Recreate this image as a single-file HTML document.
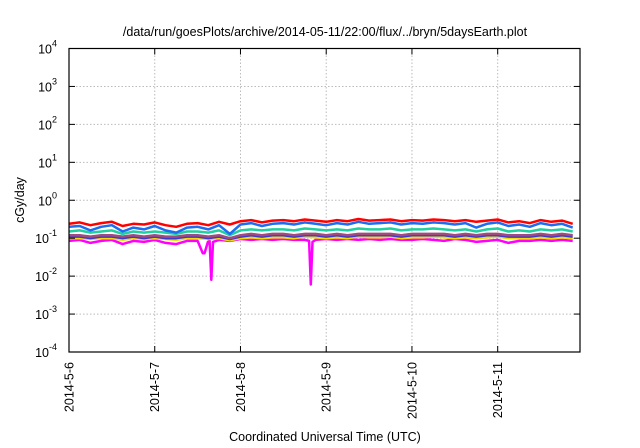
<!DOCTYPE html>
<html><head><meta charset="utf-8"><style>
body{margin:0;background:#fff}
svg{display:block;font-family:"Liberation Sans",sans-serif}
</style></head><body>
<svg id="chart" width="640" height="448" viewBox="0 0 640 448" xmlns="http://www.w3.org/2000/svg">
<text x="325" y="36" font-size="12.5" text-anchor="middle">/data/run/goesPlots/archive/2014-05-11/22:00/flux/../bryn/5daysEarth.plot</text>
<g id="grid"></g><g id="series"></g><g id="axes"></g>
<text transform="translate(24,200) rotate(-90)" font-size="12.5" text-anchor="middle">cGy/day</text>
<text x="325" y="441" font-size="12.5" text-anchor="middle">Coordinated Universal Time (UTC)</text>
</svg>
<script>
const xTickLabels=["2014-5-6","2014-5-7","2014-5-8","2014-5-9","2014-5-10","2014-5-11"];
const yTickExps=[-4,-3,-2,-1,0,1,2,3,4];
const red=[0.24,0.26,0.22,0.25,0.27,0.21,0.24,0.23,0.26,0.22,0.2,0.24,0.25,0.22,0.27,0.23,0.28,0.3,0.26,0.29,0.3,0.28,0.31,0.29,0.27,0.3,0.28,0.32,0.29,0.3,0.31,0.28,0.3,0.29,0.31,0.3,0.28,0.3,0.27,0.29,0.31,0.26,0.28,0.25,0.3,0.27,0.29,0.24];
const blue=[0.2,0.21,0.16,0.2,0.22,0.15,0.19,0.17,0.21,0.16,0.14,0.19,0.2,0.17,0.22,0.13,0.23,0.25,0.21,0.24,0.25,0.23,0.26,0.24,0.22,0.25,0.23,0.27,0.24,0.25,0.26,0.23,0.25,0.24,0.26,0.25,0.23,0.25,0.19,0.24,0.26,0.21,0.23,0.2,0.25,0.22,0.24,0.19];
const teal=[0.15,0.16,0.14,0.15,0.16,0.13,0.15,0.14,0.15,0.14,0.13,0.15,0.15,0.14,0.16,0.12,0.16,0.17,0.16,0.17,0.17,0.16,0.18,0.17,0.16,0.17,0.16,0.18,0.17,0.17,0.18,0.16,0.17,0.17,0.18,0.17,0.16,0.17,0.15,0.17,0.18,0.15,0.16,0.15,0.17,0.16,0.17,0.15];
const purple=[0.12,0.12,0.11,0.12,0.12,0.11,0.12,0.11,0.12,0.11,0.11,0.12,0.12,0.11,0.12,0.1,0.12,0.13,0.12,0.13,0.13,0.12,0.13,0.13,0.12,0.13,0.12,0.13,0.13,0.13,0.13,0.12,0.13,0.13,0.13,0.13,0.12,0.13,0.12,0.13,0.13,0.12,0.12,0.12,0.13,0.12,0.13,0.12];
const darkBlue=[0.11,0.11,0.1,0.11,0.11,0.1,0.11,0.1,0.11,0.1,0.1,0.11,0.11,0.1,0.11,0.095,0.11,0.12,0.11,0.12,0.12,0.11,0.12,0.12,0.11,0.12,0.11,0.12,0.12,0.12,0.12,0.11,0.12,0.12,0.12,0.12,0.11,0.12,0.11,0.12,0.12,0.11,0.11,0.11,0.12,0.11,0.12,0.11];
const yellow=[0.1,0.1,0.095,0.1,0.1,0.09,0.1,0.095,0.1,0.095,0.09,0.1,0.1,0.095,0.1,0.088,0.1,0.105,0.1,0.105,0.105,0.1,0.11,0.105,0.1,0.105,0.1,0.11,0.105,0.105,0.11,0.1,0.105,0.105,0.11,0.105,0.1,0.105,0.1,0.105,0.11,0.1,0.1,0.1,0.105,0.1,0.105,0.1];
const magentaTimes=[0,0.125,0.25,0.375,0.5,0.625,0.75,0.875,1,1.125,1.25,1.375,1.5,1.56,1.58,1.62,1.64,1.66,1.68,1.75,1.875,2,2.125,2.25,2.375,2.5,2.625,2.75,2.8,2.82,2.84,2.875,3,3.125,3.25,3.375,3.5,3.625,3.75,3.875,4,4.125,4.25,4.375,4.5,4.625,4.75,4.875,5,5.125,5.25,5.375,5.5,5.625,5.75,5.875];
const magenta=[0.085,0.09,0.075,0.085,0.09,0.07,0.085,0.08,0.09,0.075,0.07,0.085,0.085,0.04,0.04,0.08,0.085,0.008,0.08,0.09,0.085,0.095,0.09,0.095,0.09,0.095,0.09,0.09,0.085,0.006,0.08,0.09,0.095,0.09,0.095,0.09,0.095,0.09,0.095,0.09,0.09,0.095,0.09,0.085,0.095,0.09,0.08,0.085,0.09,0.075,0.085,0.085,0.09,0.085,0.09,0.085];
const L=69,R=580,T=48.5,B=352,X0=0,X1=5.96,E0=-4,E1=4;
const xs=d=>L+(d-X0)/(X1-X0)*(R-L);
const ys=v=>B-(Math.log10(v)-E0)/(E1-E0)*(B-T);
const NS="http://www.w3.org/2000/svg";
function mk(tag,attrs,parent){const e=document.createElementNS(NS,tag);for(const k in attrs)e.setAttribute(k,attrs[k]);parent.appendChild(e);return e;}
const grid=document.getElementById('grid'),axes=document.getElementById('axes'),ser=document.getElementById('series');
yTickExps.forEach(e=>{const y=B-(e-E0)/(E1-E0)*(B-T);
 if(e>E0&&e<E1){const g=mk('line',{x1:L,x2:R,y1:y,y2:y,stroke:'#bbb','stroke-dasharray':'1.5,2','stroke-width':1},grid);
 
 }
 const t1=mk('line',{x1:L,x2:L+6,y1:y,y2:y,stroke:'#000'},axes);
 
 
 mk('line',{x1:R-6,x2:R,y1:y,y2:y,stroke:'#000'},axes);
 const tx=mk('text',{x:57,y:y+5,'font-size':12.5,'text-anchor':'end'},axes);
 
 
 tx.textContent='10';const s=mk('tspan',{dy:-7,'font-size':9},tx);s.textContent=String(e);});
xTickLabels.forEach((lab,i)=>{const x=xs(i);
 if(i>0){const g=mk('line',{x1:x,x2:x,y1:T,y2:B,stroke:'#bbb','stroke-dasharray':'1.5,2','stroke-width':1},grid);
 
 }
 mk('line',{x1:x,x2:x,y1:B,y2:B-6,stroke:'#000'},axes);
 mk('line',{x1:x,x2:x,y1:T,y2:T+6,stroke:'#000'},axes);
 const t=mk('text',{transform:`translate(${x+4.5},${B+10}) rotate(-90)`,'font-size':12.5,'text-anchor':'end'},axes);
 
 
 t.textContent=lab;});
const fr=mk('rect',{x:L,y:T,width:R-L,height:B-T,fill:'none',stroke:'#000','stroke-width':1.2},axes);


function line(times,vals,color,name){const p=mk('polyline',{points:vals.map((v,i)=>xs(times[i]).toFixed(1)+','+ys(v).toFixed(1)).join(' '),fill:'none',stroke:color,'stroke-width':2.5,'stroke-linejoin':'round'},ser);
 
 }
const t48=red.map((_,i)=>i*0.125);
line(magentaTimes,magenta,'#ff00ff','series-magenta');
line(t48,yellow,'#f0e000','series-yellow');
line(t48,darkBlue,'#3a3ad0','series-dark-blue');
line(t48,purple,'#a04a80','series-purple');
line(t48,teal,'#20d0a0','series-teal');
line(t48,red,'#ff0000','series-red');
line(t48,blue,'#1e6cf0','series-blue');
</script>
</body></html>
